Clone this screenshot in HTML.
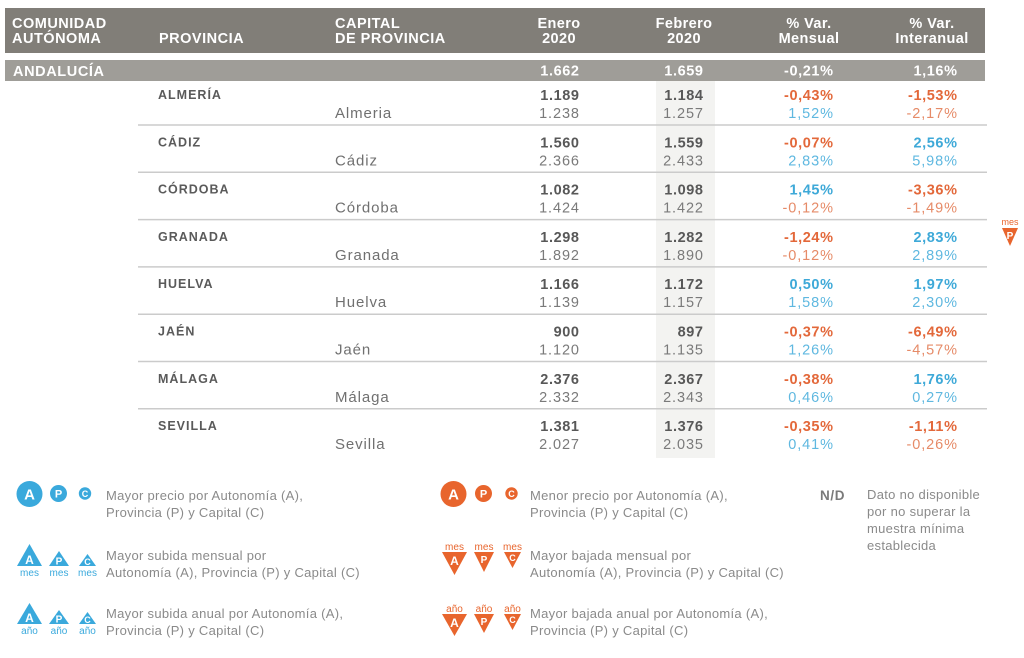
<!DOCTYPE html>
<html><head><meta charset="utf-8">
<style>
html,body{margin:0;padding:0;background:#fff;}
svg{display:block;font-family:"Liberation Sans",sans-serif;}
.h{font-weight:bold;font-size:14.5px;fill:#fff;letter-spacing:0.5px;}
.hc{font-weight:bold;font-size:14.5px;fill:#fff;letter-spacing:0.4px;text-anchor:middle;}
.an{font-weight:bold;font-size:14.5px;fill:#fff;letter-spacing:0.6px;text-anchor:end;}
.pv{font-weight:bold;font-size:12.5px;fill:#5a5a5a;letter-spacing:1px;}
.cp{font-size:15px;fill:#707070;letter-spacing:0.9px;}
.b{font-weight:bold;font-size:14.5px;fill:#585858;letter-spacing:0.6px;text-anchor:end;}
.r{font-size:14.5px;fill:#7a7a7a;letter-spacing:0.9px;text-anchor:end;}
.bo{fill:#e3683a;} .bb{fill:#3ea9d8;}
.ro{fill:#e68b68;} .rb{fill:#5fb8e0;}
.lg{font-size:13px;fill:#8a8a8a;letter-spacing:0.3px;}
.wl{font-weight:bold;fill:#fff;text-anchor:middle;}
.sb{font-size:10px;fill:#3aa9dc;text-anchor:middle;}
.so{font-size:10px;fill:#e8652d;text-anchor:middle;}
</style></head>
<body>
<svg width="1024" height="658" viewBox="0 0 1024 658" xmlns="http://www.w3.org/2000/svg">
<!-- shaded column -->
<rect x="656" y="81" width="59" height="377" fill="#f3f3f1"/>
<!-- header bar -->
<rect x="5" y="8" width="980" height="45" fill="#817e78"/>
<text class="h" x="12" y="28">COMUNIDAD</text>
<text class="h" x="12" y="43">AUTÓNOMA</text>
<text class="h" x="159" y="43">PROVINCIA</text>
<text class="h" x="335" y="28">CAPITAL</text>
<text class="h" x="335" y="43">DE PROVINCIA</text>
<text class="hc" x="559" y="28">Enero</text>
<text class="hc" x="559" y="43">2020</text>
<text class="hc" x="684" y="28">Febrero</text>
<text class="hc" x="684" y="43">2020</text>
<text class="hc" x="809" y="28">% Var.</text>
<text class="hc" x="809" y="43">Mensual</text>
<text class="hc" x="932" y="28">% Var.</text>
<text class="hc" x="932" y="43">Interanual</text>
<!-- Andalucia bar -->
<rect x="5" y="60" width="980" height="21" fill="#9f9d98"/>
<text class="h" x="13" y="76" style="letter-spacing:0.6px">ANDALUCÍA</text>
<text class="an" x="579.6" y="75.5">1.662</text>
<text class="an" x="703.6" y="75.5">1.659</text>
<text class="an" x="833.6" y="75.5">-0,21%</text>
<text class="an" x="957.6" y="75.5">1,16%</text>
<!-- separators -->
<g stroke="#cbcbcb" stroke-width="1.5">
<line x1="138" y1="125" x2="987" y2="125"/>
<line x1="138" y1="172.3" x2="987" y2="172.3"/>
<line x1="138" y1="219.6" x2="987" y2="219.6"/>
<line x1="138" y1="266.9" x2="987" y2="266.9"/>
<line x1="138" y1="314.2" x2="987" y2="314.2"/>
<line x1="138" y1="361.5" x2="987" y2="361.5"/>
<line x1="138" y1="408.8" x2="987" y2="408.8"/>
</g>
<!-- rows -->
<g>
<text class="pv" x="158" y="99">ALMERÍA</text>
<text class="cp" x="335" y="118">Almeria</text>
<text class="b" x="579.6" y="100">1.189</text><text class="r" x="579.9" y="118">1.238</text>
<text class="b" x="703.6" y="100">1.184</text><text class="r" x="703.9" y="118">1.257</text>
<text class="b bo" x="833.6" y="100">-0,43%</text><text class="r rb" x="833.9" y="118">1,52%</text>
<text class="b bo" x="957.6" y="100">-1,53%</text><text class="r ro" x="957.9" y="118">-2,17%</text>
</g>
<g>
<text class="pv" x="158" y="146.3">CÁDIZ</text>
<text class="cp" x="335" y="165.3">Cádiz</text>
<text class="b" x="579.6" y="147.3">1.560</text><text class="r" x="579.9" y="165.3">2.366</text>
<text class="b" x="703.6" y="147.3">1.559</text><text class="r" x="703.9" y="165.3">2.433</text>
<text class="b bo" x="833.6" y="147.3">-0,07%</text><text class="r rb" x="833.9" y="165.3">2,83%</text>
<text class="b bb" x="957.6" y="147.3">2,56%</text><text class="r rb" x="957.9" y="165.3">5,98%</text>
</g>
<g>
<text class="pv" x="158" y="193.6">CÓRDOBA</text>
<text class="cp" x="335" y="212.6">Córdoba</text>
<text class="b" x="579.6" y="194.6">1.082</text><text class="r" x="579.9" y="212.6">1.424</text>
<text class="b" x="703.6" y="194.6">1.098</text><text class="r" x="703.9" y="212.6">1.422</text>
<text class="b bb" x="833.6" y="194.6">1,45%</text><text class="r ro" x="833.9" y="212.6">-0,12%</text>
<text class="b bo" x="957.6" y="194.6">-3,36%</text><text class="r ro" x="957.9" y="212.6">-1,49%</text>
</g>
<g>
<text class="pv" x="158" y="240.9">GRANADA</text>
<text class="cp" x="335" y="259.9">Granada</text>
<text class="b" x="579.6" y="241.9">1.298</text><text class="r" x="579.9" y="259.9">1.892</text>
<text class="b" x="703.6" y="241.9">1.282</text><text class="r" x="703.9" y="259.9">1.890</text>
<text class="b bo" x="833.6" y="241.9">-1,24%</text><text class="r ro" x="833.9" y="259.9">-0,12%</text>
<text class="b bb" x="957.6" y="241.9">2,83%</text><text class="r rb" x="957.9" y="259.9">2,89%</text>
</g>
<g>
<text class="pv" x="158" y="288.2">HUELVA</text>
<text class="cp" x="335" y="307.2">Huelva</text>
<text class="b" x="579.6" y="289.2">1.166</text><text class="r" x="579.9" y="307.2">1.139</text>
<text class="b" x="703.6" y="289.2">1.172</text><text class="r" x="703.9" y="307.2">1.157</text>
<text class="b bb" x="833.6" y="289.2">0,50%</text><text class="r rb" x="833.9" y="307.2">1,58%</text>
<text class="b bb" x="957.6" y="289.2">1,97%</text><text class="r rb" x="957.9" y="307.2">2,30%</text>
</g>
<g>
<text class="pv" x="158" y="335.5">JAÉN</text>
<text class="cp" x="335" y="354.5">Jaén</text>
<text class="b" x="579.6" y="336.5">900</text><text class="r" x="579.9" y="354.5">1.120</text>
<text class="b" x="703.6" y="336.5">897</text><text class="r" x="703.9" y="354.5">1.135</text>
<text class="b bo" x="833.6" y="336.5">-0,37%</text><text class="r rb" x="833.9" y="354.5">1,26%</text>
<text class="b bo" x="957.6" y="336.5">-6,49%</text><text class="r ro" x="957.9" y="354.5">-4,57%</text>
</g>
<g>
<text class="pv" x="158" y="382.8">MÁLAGA</text>
<text class="cp" x="335" y="401.8">Málaga</text>
<text class="b" x="579.6" y="383.8">2.376</text><text class="r" x="579.9" y="401.8">2.332</text>
<text class="b" x="703.6" y="383.8">2.367</text><text class="r" x="703.9" y="401.8">2.343</text>
<text class="b bo" x="833.6" y="383.8">-0,38%</text><text class="r rb" x="833.9" y="401.8">0,46%</text>
<text class="b bb" x="957.6" y="383.8">1,76%</text><text class="r rb" x="957.9" y="401.8">0,27%</text>
</g>
<g>
<text class="pv" x="158" y="430.1">SEVILLA</text>
<text class="cp" x="335" y="449.1">Sevilla</text>
<text class="b" x="579.6" y="431.1">1.381</text><text class="r" x="579.9" y="449.1">2.027</text>
<text class="b" x="703.6" y="431.1">1.376</text><text class="r" x="703.9" y="449.1">2.035</text>
<text class="b bo" x="833.6" y="431.1">-0,35%</text><text class="r rb" x="833.9" y="449.1">0,41%</text>
<text class="b bo" x="957.6" y="431.1">-1,11%</text><text class="r ro" x="957.9" y="449.1">-0,26%</text>
</g>
<!-- side icon mes P -->
<text class="so" x="1010" y="225" style="font-size:9px">mes</text>
<polygon points="1002,228 1018,228 1010,246" fill="#e8652d"/>
<text class="wl" x="1010" y="239" style="font-size:10px">P</text>

<!-- LEGEND left -->
<circle cx="29.5" cy="494" r="13" fill="#3aa9dc"/>
<text class="wl" x="29.5" y="499.5" style="font-size:15px">A</text>
<circle cx="58.5" cy="493.5" r="8.5" fill="#3aa9dc"/>
<text class="wl" x="58.5" y="497.5" style="font-size:11px">P</text>
<circle cx="85" cy="493.5" r="6.2" fill="#3aa9dc"/>
<text class="wl" x="85" y="496.8" style="font-size:9px">C</text>
<text class="lg" x="106" y="500">Mayor precio por Autonomía (A),</text>
<text class="lg" x="106" y="517">Provincia (P) y Capital (C)</text>

<polygon points="17,566 42,566 29.5,544" fill="#3aa9dc"/>
<text class="wl" x="29.5" y="564" style="font-size:12px">A</text>
<polygon points="49,566 69,566 59,551" fill="#3aa9dc"/>
<text class="wl" x="59" y="564.5" style="font-size:10px">P</text>
<polygon points="79,566 96,566 87.5,554" fill="#3aa9dc"/>
<text class="wl" x="87.5" y="565" style="font-size:9px">C</text>
<text class="sb" x="29.5" y="576">mes</text>
<text class="sb" x="59" y="576">mes</text>
<text class="sb" x="87.5" y="576">mes</text>
<text class="lg" x="106" y="560">Mayor subida mensual por</text>
<text class="lg" x="106" y="577">Autonomía (A), Provincia (P) y Capital (C)</text>

<polygon points="17,624 42,624 29.5,603" fill="#3aa9dc"/>
<text class="wl" x="29.5" y="622" style="font-size:12px">A</text>
<polygon points="49,624 69,624 59,610" fill="#3aa9dc"/>
<text class="wl" x="59" y="622.5" style="font-size:10px">P</text>
<polygon points="79,624 96,624 87.5,612" fill="#3aa9dc"/>
<text class="wl" x="87.5" y="623" style="font-size:9px">C</text>
<text class="sb" x="29.5" y="634">año</text>
<text class="sb" x="59" y="634">año</text>
<text class="sb" x="87.5" y="634">año</text>
<text class="lg" x="106" y="618">Mayor subida anual por Autonomía (A),</text>
<text class="lg" x="106" y="635">Provincia (P) y Capital (C)</text>

<!-- LEGEND middle -->
<circle cx="453.5" cy="494" r="13" fill="#e8652d"/>
<text class="wl" x="453.5" y="499.5" style="font-size:15px">A</text>
<circle cx="483.5" cy="493.5" r="8.5" fill="#e8652d"/>
<text class="wl" x="483.5" y="497.5" style="font-size:11px">P</text>
<circle cx="511.5" cy="493.5" r="6.2" fill="#e8652d"/>
<text class="wl" x="511.5" y="496.8" style="font-size:9px">C</text>
<text class="lg" x="530" y="500">Menor precio por Autonomía (A),</text>
<text class="lg" x="530" y="517">Provincia (P) y Capital (C)</text>

<text class="so" x="454.5" y="550">mes</text>
<text class="so" x="484" y="550">mes</text>
<text class="so" x="512.5" y="550">mes</text>
<polygon points="442,552 467,552 454.5,575" fill="#e8652d"/>
<text class="wl" x="454.5" y="565" style="font-size:12px">A</text>
<polygon points="474,552 494,552 484,572" fill="#e8652d"/>
<text class="wl" x="484" y="563" style="font-size:10px">P</text>
<polygon points="504,552 521,552 512.5,568" fill="#e8652d"/>
<text class="wl" x="512.5" y="561" style="font-size:9px">C</text>
<text class="lg" x="530" y="560">Mayor bajada mensual por</text>
<text class="lg" x="530" y="577">Autonomía (A), Provincia (P) y Capital (C)</text>

<text class="so" x="454.5" y="612">año</text>
<text class="so" x="484" y="612">año</text>
<text class="so" x="512.5" y="612">año</text>
<polygon points="442,614 467,614 454.5,636" fill="#e8652d"/>
<text class="wl" x="454.5" y="627" style="font-size:12px">A</text>
<polygon points="474,614 494,614 484,633" fill="#e8652d"/>
<text class="wl" x="484" y="625" style="font-size:10px">P</text>
<polygon points="504,614 521,614 512.5,630" fill="#e8652d"/>
<text class="wl" x="512.5" y="623" style="font-size:9px">C</text>
<text class="lg" x="530" y="618">Mayor bajada anual por Autonomía (A),</text>
<text class="lg" x="530" y="635">Provincia (P) y Capital (C)</text>

<!-- N/D -->
<text x="820" y="500" style="font-weight:bold;font-size:13.5px;fill:#7a7a7a;letter-spacing:0.6px">N/D</text>
<text class="lg" x="867" y="499">Dato no disponible</text>
<text class="lg" x="867" y="516">por no superar la</text>
<text class="lg" x="867" y="533">muestra mínima</text>
<text class="lg" x="867" y="550">establecida</text>
</svg>
</body></html>
